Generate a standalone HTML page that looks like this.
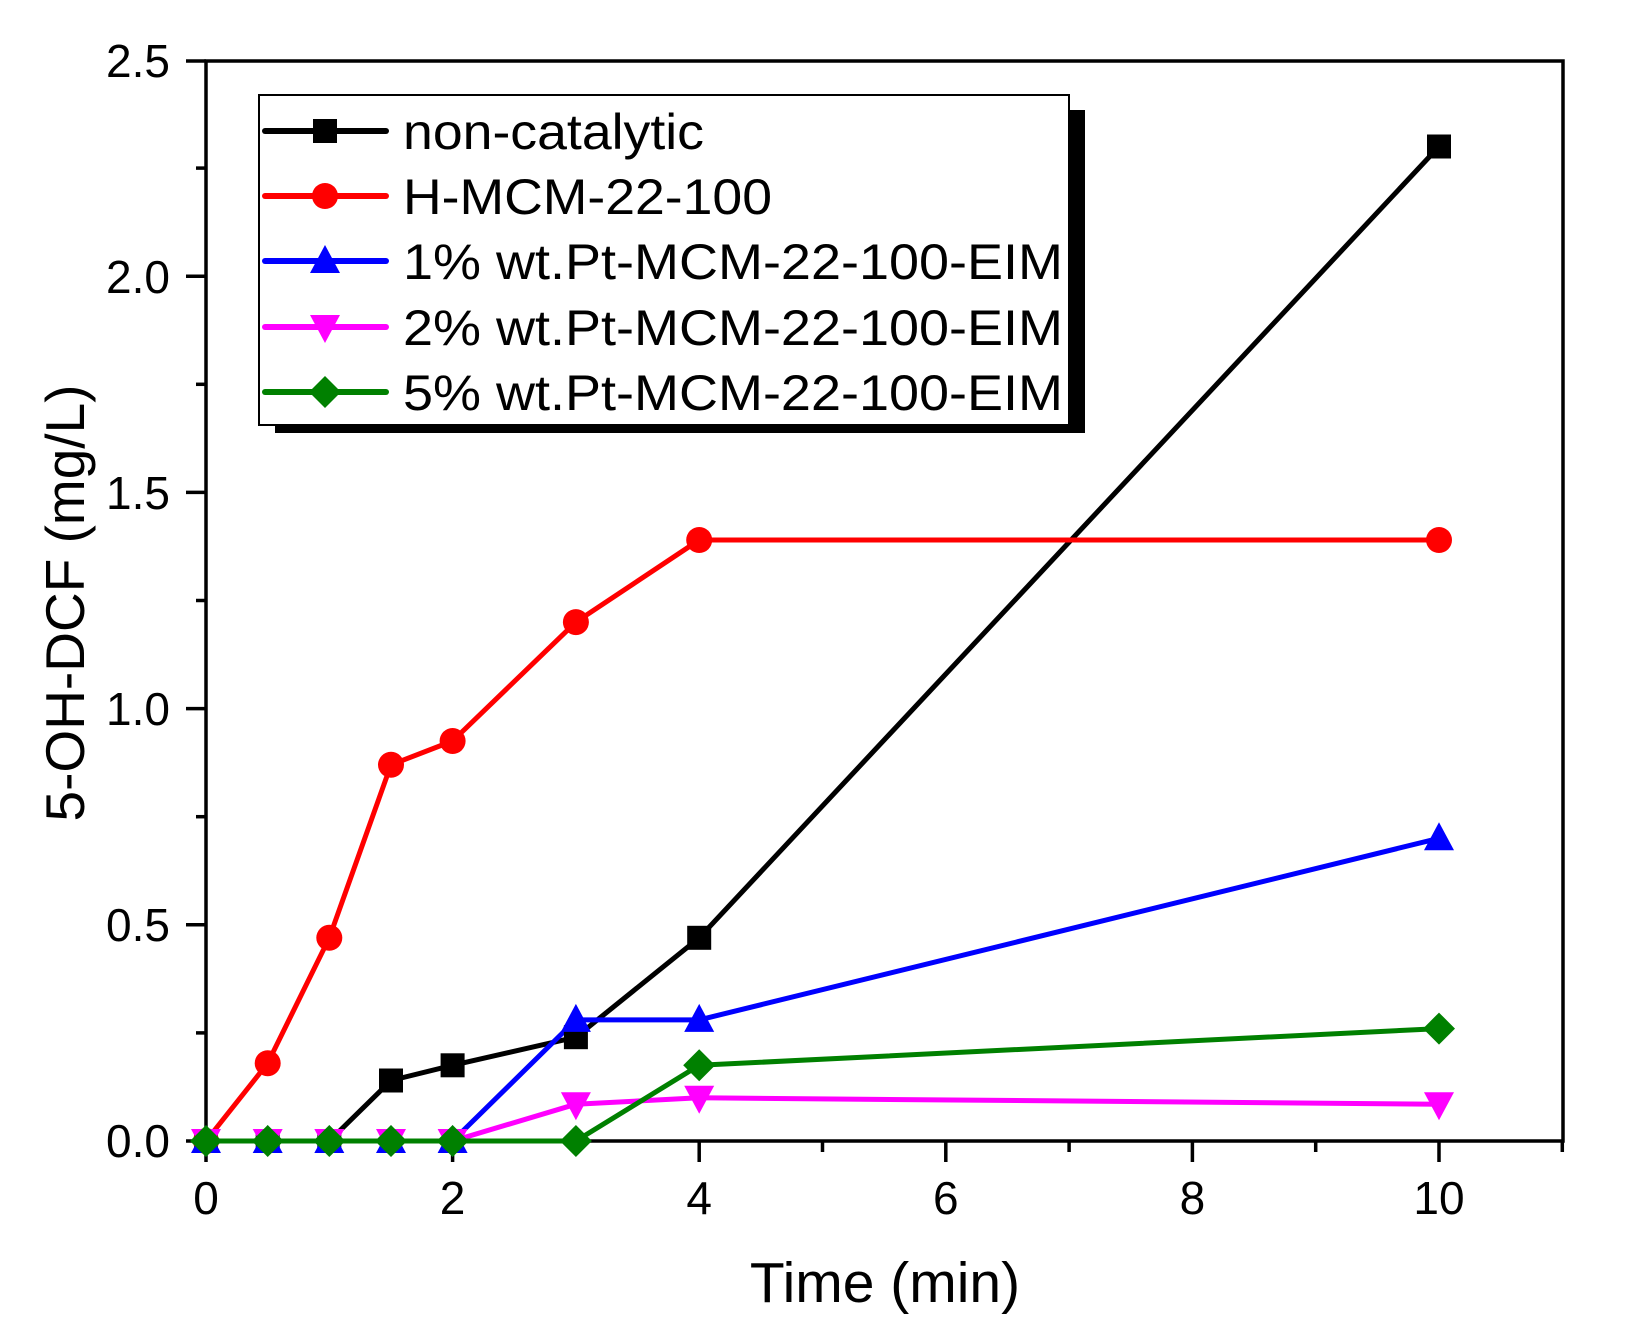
<!DOCTYPE html>
<html><head><meta charset="utf-8"><style>body{margin:0;background:#fff}svg{display:block}text{font-family:"Liberation Sans",Arial,sans-serif}</style></head>
<body>
<svg width="1630" height="1341" viewBox="0 0 1630 1341" xmlns="http://www.w3.org/2000/svg">
<defs>
<rect id="sq" x="-12" y="-12" width="24" height="24" fill="#000"/>
<circle id="ci" r="13" fill="#f00"/>
<polygon id="tu" points="0,-16 15,12 -15,12" fill="#00f"/>
<polygon id="td" points="0,16 15,-12 -15,-12" fill="#f0f"/>
<polygon id="di" points="0,-16 16,0 0,16 -16,0" fill="#008000"/>
</defs>
<rect x="206" y="61" width="1357" height="1080" fill="none" stroke="#000" stroke-width="3.5"/>
<g stroke="#000" stroke-width="3.5">
<line x1="186" y1="1141" x2="206" y2="1141"/><line x1="186" y1="924.8" x2="206" y2="924.8"/><line x1="186" y1="708.6" x2="206" y2="708.6"/><line x1="186" y1="492.4" x2="206" y2="492.4"/><line x1="186" y1="276.2" x2="206" y2="276.2"/><line x1="186" y1="61" x2="206" y2="61"/>
<line x1="196" y1="1032.9" x2="206" y2="1032.9"/><line x1="196" y1="816.7" x2="206" y2="816.7"/><line x1="196" y1="600.5" x2="206" y2="600.5"/><line x1="196" y1="384.3" x2="206" y2="384.3"/><line x1="196" y1="168.1" x2="206" y2="168.1"/>
<line x1="206" y1="1141" x2="206" y2="1162"/><line x1="452.6" y1="1141" x2="452.6" y2="1162"/><line x1="699.2" y1="1141" x2="699.2" y2="1162"/><line x1="945.8" y1="1141" x2="945.8" y2="1162"/><line x1="1192.4" y1="1141" x2="1192.4" y2="1162"/><line x1="1439" y1="1141" x2="1439" y2="1162"/>
<line x1="329.3" y1="1141" x2="329.3" y2="1152"/><line x1="575.9" y1="1141" x2="575.9" y2="1152"/><line x1="822.5" y1="1141" x2="822.5" y2="1152"/><line x1="1069.1" y1="1141" x2="1069.1" y2="1152"/><line x1="1315.7" y1="1141" x2="1315.7" y2="1152"/><line x1="1562.3" y1="1141" x2="1562.3" y2="1152"/>
</g>
<g font-size="46" text-anchor="end">
<text x="170" y="1157">0.0</text><text x="170" y="941">0.5</text><text x="170" y="725">1.0</text><text x="170" y="509">1.5</text><text x="170" y="293">2.0</text><text x="170" y="77">2.5</text>
</g>
<g font-size="46" text-anchor="middle">
<text x="206" y="1214">0</text><text x="452.6" y="1214">2</text><text x="699.2" y="1214">4</text><text x="945.8" y="1214">6</text><text x="1192.4" y="1214">8</text><text x="1439" y="1214">10</text>
</g>
<text x="885" y="1302" font-size="57" text-anchor="middle">Time (min)</text>
<text transform="translate(84,603) rotate(-90)" font-size="55" text-anchor="middle">5-OH-DCF (mg/L)</text>
<g fill="none" stroke-width="5" stroke-linejoin="round">
<polyline stroke="#000" points="206,1141 267.7,1141 329.3,1141 391,1080.5 452.6,1065.3 575.9,1037.2 699.2,937.8 1439,146.5"/>
<polyline stroke="#f00" points="206,1141 267.7,1063.2 329.3,937.8 391,764.8 452.6,741 575.9,622.1 699.2,540 1439,540"/>
<polyline stroke="#00f" points="206,1141 267.7,1141 329.3,1141 391,1141 452.6,1141 575.9,1019.9 699.2,1019.9 1439,838.3"/>
<polyline stroke="#f0f" points="206,1141 267.7,1141 329.3,1141 391,1141 452.6,1141 575.9,1104.2 699.2,1097.8 1439,1104.2"/>
<polyline stroke="#008000" points="206,1141 267.7,1141 329.3,1141 391,1141 452.6,1141 575.9,1141 699.2,1065.3 1439,1028.6"/>
</g>
<use href="#sq" x="206" y="1141"/><use href="#sq" x="267.7" y="1141"/><use href="#sq" x="329.3" y="1141"/><use href="#sq" x="391" y="1080.5"/><use href="#sq" x="452.6" y="1065.3"/><use href="#sq" x="575.9" y="1037.2"/><use href="#sq" x="699.2" y="937.8"/><use href="#sq" x="1439" y="146.5"/>
<use href="#ci" x="206" y="1141"/><use href="#ci" x="267.7" y="1063.2"/><use href="#ci" x="329.3" y="937.8"/><use href="#ci" x="391" y="764.8"/><use href="#ci" x="452.6" y="741"/><use href="#ci" x="575.9" y="622.1"/><use href="#ci" x="699.2" y="540"/><use href="#ci" x="1439" y="540"/>
<use href="#tu" x="206" y="1141"/><use href="#tu" x="267.7" y="1141"/><use href="#tu" x="329.3" y="1141"/><use href="#tu" x="391" y="1141"/><use href="#tu" x="452.6" y="1141"/><use href="#tu" x="575.9" y="1019.9"/><use href="#tu" x="699.2" y="1019.9"/><use href="#tu" x="1439" y="838.3"/>
<use href="#td" x="206" y="1141"/><use href="#td" x="267.7" y="1141"/><use href="#td" x="329.3" y="1141"/><use href="#td" x="391" y="1141"/><use href="#td" x="452.6" y="1141"/><use href="#td" x="575.9" y="1104.2"/><use href="#td" x="699.2" y="1097.8"/><use href="#td" x="1439" y="1104.2"/>
<use href="#di" x="206" y="1141"/><use href="#di" x="267.7" y="1141"/><use href="#di" x="329.3" y="1141"/><use href="#di" x="391" y="1141"/><use href="#di" x="452.6" y="1141"/><use href="#di" x="575.9" y="1141"/><use href="#di" x="699.2" y="1065.3"/><use href="#di" x="1439" y="1028.6"/>
<rect x="275" y="110" width="810" height="323" fill="#000"/>
<rect x="259" y="95" width="810" height="330" fill="#fff" stroke="#000" stroke-width="2"/>
<g stroke-width="6" stroke-linecap="round">
<line x1="265" y1="131" x2="386" y2="131" stroke="#000"/>
<line x1="265" y1="196" x2="386" y2="196" stroke="#f00"/>
<line x1="265" y1="261" x2="386" y2="261" stroke="#00f"/>
<line x1="265" y1="327" x2="386" y2="327" stroke="#f0f"/>
<line x1="265" y1="392" x2="386" y2="392" stroke="#008000"/>
</g>
<use href="#sq" x="325" y="131"/><use href="#ci" x="325" y="196"/><use href="#tu" x="325" y="261"/><use href="#td" x="325" y="327"/><use href="#di" x="325" y="392"/>
<g font-size="50">
<text x="403" y="149" textLength="301" lengthAdjust="spacingAndGlyphs">non-catalytic</text>
<text x="403" y="214" textLength="369" lengthAdjust="spacingAndGlyphs">H-MCM-22-100</text>
<text x="403" y="279" textLength="660" lengthAdjust="spacingAndGlyphs">1% wt.Pt-MCM-22-100-EIM</text>
<text x="403" y="345" textLength="660" lengthAdjust="spacingAndGlyphs">2% wt.Pt-MCM-22-100-EIM</text>
<text x="403" y="410" textLength="660" lengthAdjust="spacingAndGlyphs">5% wt.Pt-MCM-22-100-EIM</text>
</g>
</svg>
</body></html>
